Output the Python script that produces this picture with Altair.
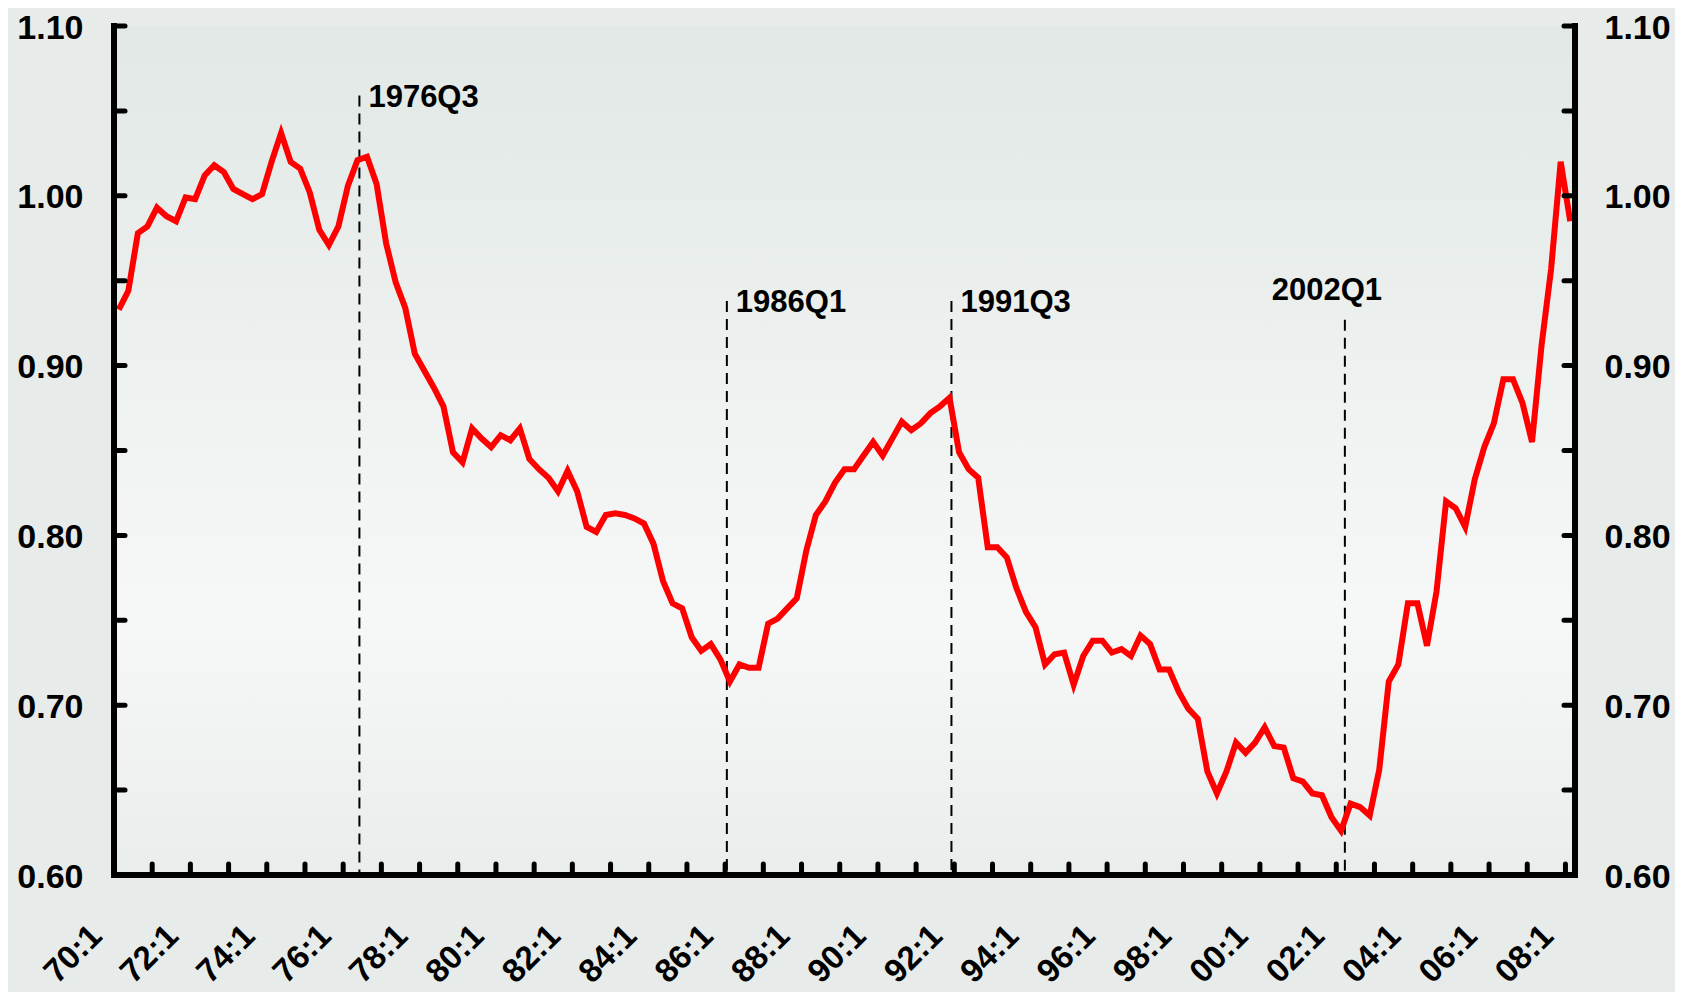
import altair as alt
import pandas as pd

# ---- data (quarterly, 1970Q1 .. 2008Q1) ----
ratio = [
    0.933, 0.944, 0.978, 0.982, 0.993, 0.988, 0.985, 0.999, 0.998, 1.012,
    1.018, 1.014, 1.004, 1.001, 0.998, 1.001, 1.020, 1.037, 1.020, 1.016,
    1.002, 0.980, 0.971, 0.982, 1.006, 1.021, 1.023, 1.007, 0.972, 0.949,
    0.934, 0.907, 0.897, 0.887, 0.876, 0.849, 0.843, 0.863, 0.857, 0.852,
    0.859, 0.856, 0.863, 0.845, 0.839, 0.834, 0.826, 0.838, 0.826, 0.805,
    0.802, 0.812, 0.813, 0.812, 0.810, 0.807, 0.795, 0.773, 0.760, 0.757,
    0.740, 0.732, 0.736, 0.727, 0.714, 0.724, 0.722, 0.722, 0.748, 0.751,
    0.757, 0.763, 0.791, 0.812, 0.820, 0.831, 0.839, 0.839, 0.847, 0.855,
    0.847, 0.857, 0.867, 0.862, 0.866, 0.872, 0.876, 0.881, 0.849, 0.839,
    0.834, 0.793, 0.793, 0.787, 0.769, 0.755, 0.746, 0.724, 0.730, 0.731,
    0.712, 0.729, 0.738, 0.738, 0.731, 0.733, 0.729, 0.741, 0.736, 0.721,
    0.721, 0.708, 0.698, 0.692, 0.661, 0.648, 0.661, 0.678, 0.672, 0.678,
    0.687, 0.676, 0.675, 0.657, 0.655, 0.648, 0.647, 0.634, 0.626, 0.642,
    0.640, 0.635, 0.662, 0.714, 0.724, 0.760, 0.760, 0.735, 0.767, 0.820,
    0.816, 0.805, 0.833, 0.852, 0.866, 0.892, 0.892, 0.878, 0.855, 0.912,
    0.957, 1.020, 0.985,
]
start_year = 1970
quarter_t = [start_year + i / 4 for i in range(len(ratio))]

x_label_years = list(range(1970, 2009, 2))
x_label_text = ["70:1", "72:1", "74:1", "76:1", "78:1", "80:1", "82:1", "84:1",
                "86:1", "88:1", "90:1", "92:1", "94:1", "96:1", "98:1", "00:1",
                "02:1", "04:1", "06:1", "08:1"]
x_tick_years = [1970.875 + k for k in range(38)]

y_label_values = [0.60, 0.70, 0.80, 0.90, 1.00, 1.10]
y_tick_values = [0.60, 0.65, 0.70, 0.75, 0.80, 0.85, 0.90, 0.95, 1.00, 1.05, 1.10]

event_labels = ["1976Q3", "1986Q1", "1991Q3", "2002Q1"]
event_x = [1976.3, 1985.92, 1991.8, 2002.1]
event_top = [1.059, 0.938, 0.938, 0.927]
event_side = ["right", "right", "right", "above"]

# ---- layout / style ----
W, H = 1461, 849
FONT = "Liberation Sans"
TICK = 11
AXW = 6

df = pd.DataFrame({"t": quarter_t, "v": ratio})
ev = pd.DataFrame({"label": event_labels, "x": event_x, "top": event_top, "side": event_side})
ytk = pd.DataFrame({"v": y_tick_values})
xtk = pd.DataFrame({"t": x_tick_years})
xlab = pd.DataFrame({"t": x_label_years, "label": x_label_text})
one = pd.DataFrame({"k": [0]})

x_scale = alt.Scale(domain=[1969.875, 2008.125], nice=False, zero=False)
y_scale = alt.Scale(domain=[0.6, 1.1], nice=False, zero=False)

common = dict(labelFont=FONT, labelFontWeight="bold", labelColor="black",
              labelFontSize=34, labelOffset=2, domain=False, ticks=False, tickSize=0,
              grid=False, title=None, labelOverlap=False, labelFlush=False,
              labelBound=False, zindex=1)
left_axis = alt.Axis(orient="left", values=y_label_values, format=".2f",
                     labelPadding=31, **common)
right_axis = alt.Axis(orient="right", values=y_label_values, format=".2f",
                      labelPadding=29, **common)

gradient = alt.LinearGradient(
    gradient="linear", x1=0, y1=0, x2=0, y2=1,
    stops=[
        alt.GradientStop(offset=0, color="#e1e8e5"),
        alt.GradientStop(offset=0.7, color="#f6f8f7"),
        alt.GradientStop(offset=1, color="#e9edeb"),
    ],
)
backdrop = alt.Chart(one).mark_rect(fill=gradient, strokeWidth=0).encode(
    x=alt.value(0), x2=alt.value(W), y=alt.value(0), y2=alt.value(H),
)

dashes = alt.Chart(ev).mark_rule(color="black", strokeWidth=2, strokeDash=[11, 7]).encode(
    x=alt.X("x:Q", scale=x_scale, axis=None),
    y=alt.Y("top:Q", scale=y_scale, axis=None),
    y2=alt.datum(0.6),
)

line = alt.Chart(df).mark_line(color="#ff0000", strokeWidth=6).encode(
    x=alt.X("t:Q", scale=x_scale, axis=None),
    y=alt.Y("v:Q", scale=y_scale, axis=left_axis),
)

# axis lines (frame on left, bottom, right)
frame_style = dict(color="black", strokeWidth=AXW, strokeCap="square")
left_line = alt.Chart(one).mark_rule(**frame_style).encode(
    x=alt.value(0), y=alt.value(0), y2=alt.value(H))
right_line = alt.Chart(one).mark_rule(**frame_style).encode(
    x=alt.value(W), y=alt.value(0), y2=alt.value(H))
bottom_line = alt.Chart(one).mark_rule(**frame_style).encode(
    x=alt.value(0), x2=alt.value(W), y=alt.value(H))

tick_style = dict(color="black", strokeWidth=5, strokeCap="round")
left_ticks = alt.Chart(ytk).mark_rule(**tick_style).encode(
    y=alt.Y("v:Q", scale=y_scale, axis=None),
    x=alt.value(0), x2=alt.value(TICK),
)
right_ticks = alt.Chart(ytk).mark_rule(**tick_style).encode(
    y=alt.Y("v:Q", scale=y_scale, axis=right_axis),
    x=alt.value(W - TICK), x2=alt.value(W),
)
bottom_ticks = alt.Chart(xtk).mark_rule(**tick_style).encode(
    x=alt.X("t:Q", scale=x_scale, axis=None),
    y=alt.value(H), y2=alt.value(H - TICK),
)

x_labels = alt.Chart(xlab).mark_text(
    angle=315, align="right", baseline="middle", xOffset=-22,
    font=FONT, fontWeight="bold", fontSize=33, color="black",
).encode(
    x=alt.X("t:Q", scale=x_scale, axis=None),
    y=alt.value(H + 56),
    text="label:N",
)

text_right = alt.Chart(ev).transform_filter(alt.datum.side == "right").mark_text(
    align="left", baseline="middle", dx=9, dy=2, font=FONT, fontWeight="bold",
    fontSize=31, color="black",
).encode(
    x=alt.X("x:Q", scale=x_scale, axis=None),
    y=alt.Y("top:Q", scale=y_scale, axis=None),
    text="label:N",
)
text_above = alt.Chart(ev).transform_filter(alt.datum.side == "above").mark_text(
    align="center", baseline="middle", dx=-18, dy=-29, font=FONT, fontWeight="bold",
    fontSize=31, color="black",
).encode(
    x=alt.X("x:Q", scale=x_scale, axis=None),
    y=alt.Y("top:Q", scale=y_scale, axis=None),
    text="label:N",
)

chart = alt.layer(
    backdrop, dashes, line, left_line, right_line, bottom_line,
    left_ticks, right_ticks, bottom_ticks, x_labels, text_right, text_above,
).resolve_axis(y="independent").properties(
    width=W, height=H,
    autosize=alt.AutoSizeParams(type="none"),
    padding={"left": 106, "top": 18, "right": 100, "bottom": 117},
    background="#e7ecea",
).configure_view(stroke=None)

chart.save("out.html", embed_options={"renderer": "svg", "actions": False})
